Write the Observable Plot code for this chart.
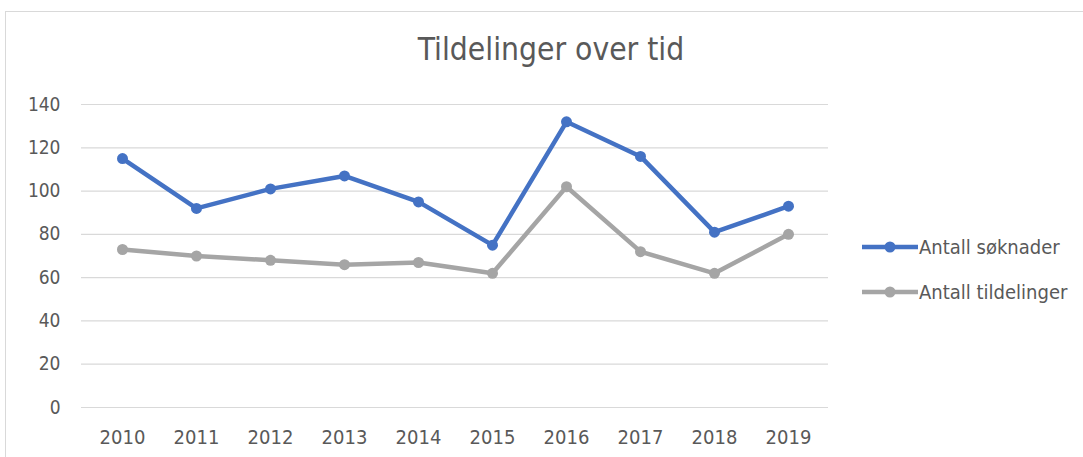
<!DOCTYPE html>
<html>
<head>
<meta charset="utf-8">
<script src="https://cdn.jsdelivr.net/npm/d3@7"></script>
<script src="https://cdn.jsdelivr.net/npm/@observablehq/plot@0.6"></script>
<style>
  body { margin: 0; background: #fff; }
  #wrap { position: relative; width: 1083px; height: 457px; overflow: hidden; font-family: "Liberation Sans Narrow", "DejaVu Sans Condensed", sans-serif; color: #595959; }
  #frame { position: absolute; left: 5px; top: 11px; width: 1200px; height: 600px; border: 1px solid #D9D9D9; }
  #title { position: absolute; left: 0; width: 1102px; top: 31px; text-align: center; font-size: 31.5px; color: #595959; }
  #chart { position: absolute; left: 0; top: 0; }
  .leg { position: absolute; left: 862px; font-size: 20px; color: #595959; display: flex; align-items: center; }
  .leg svg { margin-right: 1px; }
</style>
</head>
<body>
<div id="wrap">
  <div id="frame"></div>
  <div id="chart"></div>
  <div id="title">Tildelinger over tid</div>
  <div id="legend"></div>
</div>
<script>
const years = ["2010","2011","2012","2013","2014","2015","2016","2017","2018","2019"];
const soknader = [115, 92, 101, 107, 95, 75, 132, 116, 81, 93];
const tildelinger = [73, 70, 68, 66, 67, 62, 102, 72, 62, 80];
const yTicks = [0, 20, 40, 60, 80, 100, 120, 140];
const seriesNames = ["Antall søknader", "Antall tildelinger"];
const seriesColors = ["#4472C4", "#A5A5A5"];

const data = [];
years.forEach((y, i) => {
  data.push({year: y, value: soknader[i], series: seriesNames[0]});
  data.push({year: y, value: tildelinger[i], series: seriesNames[1]});
});

const plot = Plot.plot({
  width: 1083,
  height: 457,
  marginLeft: 81,
  marginRight: 255,
  marginTop: 104,
  marginBottom: 50,
  style: {fontFamily: '"Liberation Sans Narrow", "DejaVu Sans Condensed", sans-serif', fontSize: "18px", color: "#595959", background: "transparent"},
  x: {type: "point", domain: years, padding: 0.5, label: null},
  y: {domain: [0, 140], ticks: yTicks, label: null},
  color: {domain: seriesNames, range: seriesColors},
  marks: [
    Plot.ruleY(yTicks, {stroke: "#D9D9D9", strokeWidth: 1.2}),
    Plot.axisY({ticks: yTicks, tickSize: 0, tickPadding: 21, label: null, fontSize: 19}),
    Plot.axisX({tickSize: 0, tickPadding: 22, label: null, fontSize: 20}),
    Plot.line(data, {x: "year", y: "value", z: "series", stroke: "series", strokeWidth: 4.5, strokeLinejoin: "round"}),
    Plot.dot(data, {x: "year", y: "value", fill: "series", r: 5.5})
  ]
});
document.getElementById("chart").appendChild(plot);

const legend = document.getElementById("legend");
seriesNames.forEach((name, i) => {
  const d = document.createElement("div");
  d.className = "leg";
  d.style.top = (235 + i * 45) + "px";
  d.innerHTML = `<svg width="56" height="24"><line x1="0" x2="56" y1="12" y2="12" stroke="${seriesColors[i]}" stroke-width="4.5"/><circle cx="28" cy="12" r="5.5" fill="${seriesColors[i]}"/></svg><span>${name}</span>`;
  legend.appendChild(d);
});
</script>
</body>
</html>
